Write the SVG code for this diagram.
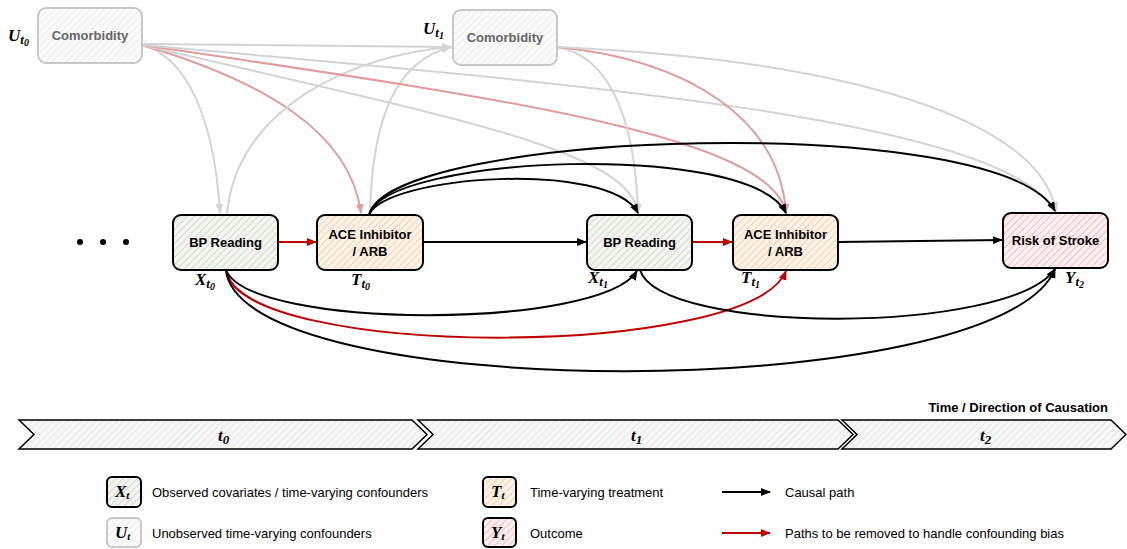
<svg xmlns="http://www.w3.org/2000/svg" width="1127" height="549" viewBox="0 0 1127 549">
<style>
.lbl{font-family:"Liberation Sans",Arial,sans-serif;font-weight:bold;font-size:13px;text-anchor:middle;fill:#000}
.ulbl{font-family:"Liberation Sans",Arial,sans-serif;font-weight:bold;font-size:13px;text-anchor:middle;fill:#666}
.m{font-family:"Liberation Serif","DejaVu Serif",serif;font-weight:bold;font-style:italic;font-size:17px;fill:#000}
.s1{font-size:13px}
.s2{font-size:10px}
.leg{font-family:"Liberation Sans",Arial,sans-serif;font-size:13px;fill:#000}
.box{stroke:#000;stroke-width:2}
.ubox{stroke:#c8c8c8;stroke-width:2}
.k{fill:none;stroke:#000;stroke-width:2}
.r{fill:none;stroke:#c00000;stroke-width:2}
.g{fill:none;stroke:#d4d4d4;stroke-width:2}
.p{fill:none;stroke:#e39c9c;stroke-width:2}
</style>
<defs>
<pattern id="hg" width="5" height="5" patternUnits="userSpaceOnUse" patternTransform="rotate(45)"><rect width="5" height="5" fill="#f3f5f0"/><line x1="0" y1="0" x2="0" y2="5" stroke="#c9d0c2" stroke-width="1.4"/></pattern>
<pattern id="ho" width="5" height="5" patternUnits="userSpaceOnUse" patternTransform="rotate(45)"><rect width="5" height="5" fill="#fdf3e8"/><line x1="0" y1="0" x2="0" y2="5" stroke="#f7c28c" stroke-width="1.4"/></pattern>
<pattern id="hr" width="5" height="5" patternUnits="userSpaceOnUse" patternTransform="rotate(45)"><rect width="5" height="5" fill="#fff1f1"/><line x1="0" y1="0" x2="0" y2="5" stroke="#f8a3a3" stroke-width="1.4"/></pattern>
<pattern id="hu" width="5" height="5" patternUnits="userSpaceOnUse" patternTransform="rotate(45)"><rect width="5" height="5" fill="#fbfbfb"/><line x1="0" y1="0" x2="0" y2="5" stroke="#e6e6e6" stroke-width="1.4"/></pattern>
<pattern id="ht" width="5" height="5" patternUnits="userSpaceOnUse" patternTransform="rotate(45)"><rect width="5" height="5" fill="#f7f7f7"/><line x1="0" y1="0" x2="0" y2="5" stroke="#d9d9d9" stroke-width="1.2"/></pattern>
<marker id="ak" markerUnits="userSpaceOnUse" markerWidth="10" markerHeight="10" refX="9" refY="4" orient="auto"><path d="M0,0 L10,4 L0,8 z" fill="#000"/></marker>
<marker id="ar" markerUnits="userSpaceOnUse" markerWidth="10" markerHeight="10" refX="9" refY="4" orient="auto"><path d="M0,0 L10,4 L0,8 z" fill="#c00000"/></marker>
<marker id="ag" markerUnits="userSpaceOnUse" markerWidth="10" markerHeight="10" refX="9" refY="4" orient="auto"><path d="M0,0 L10,4 L0,8 z" fill="#d4d4d4"/></marker>
<marker id="ap" markerUnits="userSpaceOnUse" markerWidth="10" markerHeight="10" refX="9" refY="4" orient="auto"><path d="M0,0 L10,4 L0,8 z" fill="#e39c9c"/></marker>
</defs>
<rect width="1127" height="549" fill="#fff"/>

<g id="connectors">
<path class="g" d="M142,44 L451,47" marker-end="url(#ag)"/>
<path class="g" d="M142,45 C185,56 214,115 220,213" marker-end="url(#ag)"/>
<path class="p" d="M142,45 C260,80 350,130 361,213" marker-end="url(#ap)"/>
<path class="g" d="M227,215 C235,110 350,55 451,47" marker-end="url(#ag)"/>
<path class="g" d="M370,215 C372,110 400,60 451,47" marker-end="url(#ag)"/>
<path class="g" d="M142,45 C450,117 630,150 638,213" marker-end="url(#ag)"/>
<path class="p" d="M142,45 C500,98 770,135 786,213" marker-end="url(#ap)"/>
<path class="g" d="M142,45 C600,85 1000,120 1056,211" marker-end="url(#ag)"/>
<path class="g" d="M557,47 C605,55 635,110 638,213" marker-end="url(#ag)"/>
<path class="p" d="M557,47 C690,60 780,120 786,213" marker-end="url(#ap)"/>
<path class="g" d="M557,47 C850,60 1040,120 1056,211" marker-end="url(#ag)"/>
<path class="k" d="M369,215 C385,175 610,160 638,213" marker-end="url(#ak)"/>
<path class="k" d="M369,215 C385,155 750,140 786,213" marker-end="url(#ak)"/>
<path class="k" d="M369,215 C390,130 1000,110 1055,211" marker-end="url(#ak)"/>
<path class="r" d="M278,242 L316,242" marker-end="url(#ar)"/>
<path class="k" d="M423,242 L586,242" marker-end="url(#ak)"/>
<path class="r" d="M692,242 L732,242" marker-end="url(#ar)"/>
<path class="k" d="M838,242 L1002,240" marker-end="url(#ak)"/>
<path class="k" d="M226,270 C250,330 600,330 637,271" marker-end="url(#ak)"/>
<path class="r" d="M226,270 C240,360 750,360 786,271" marker-end="url(#ar)"/>
<path class="k" d="M226,270 C240,405 1000,405 1055,269" marker-end="url(#ak)"/>
<path class="k" d="M640,270 C660,335 1010,335 1055,269" marker-end="url(#ak)"/>
</g>

<g id="u0">
<rect class="ubox" x="38" y="8" width="104" height="55" rx="8" fill="url(#hu)"/>
<text class="ulbl" x="90" y="40">Comorbidity</text>
<text class="m" x="8" y="41">U<tspan class="s1" dy="3">t</tspan><tspan class="s2" dy="2">0</tspan></text>
</g>
<g id="u1">
<rect class="ubox" x="453" y="10" width="104" height="55" rx="8" fill="url(#hu)"/>
<text class="ulbl" x="505" y="42">Comorbidity</text>
<text class="m" x="423" y="34">U<tspan class="s1" dy="3">t</tspan><tspan class="s2" dy="2">1</tspan></text>
</g>
<g id="dots">
<circle cx="80" cy="242" r="3" fill="#000"/>
<circle cx="103" cy="242" r="3" fill="#000"/>
<circle cx="126" cy="242" r="3" fill="#000"/>
</g>
<g id="x0">
<rect class="box" x="173" y="215" width="105" height="55" rx="8" fill="url(#hg)"/>
<text class="lbl" x="225.5" y="247">BP Reading</text>
<text class="m" x="195" y="285">X<tspan class="s1" dy="3">t</tspan><tspan class="s2" dy="2">0</tspan></text>
</g>
<g id="t0">
<rect class="box" x="317" y="215" width="106" height="55" rx="8" fill="url(#ho)"/>
<text class="lbl" x="370" y="239">ACE Inhibitor</text>
<text class="lbl" x="370" y="256">/ ARB</text>
<text class="m" x="351" y="285">T<tspan class="s1" dy="3">t</tspan><tspan class="s2" dy="2">0</tspan></text>
</g>
<g id="x1">
<rect class="box" x="587" y="215" width="105" height="55" rx="8" fill="url(#hg)"/>
<text class="lbl" x="639.5" y="247">BP Reading</text>
<text class="m" x="588" y="283">X<tspan class="s1" dy="3">t</tspan><tspan class="s2" dy="2">1</tspan></text>
</g>
<g id="t1">
<rect class="box" x="733" y="215" width="105" height="55" rx="8" fill="url(#ho)"/>
<text class="lbl" x="785.5" y="239">ACE Inhibitor</text>
<text class="lbl" x="785.5" y="256">/ ARB</text>
<text class="m" x="741" y="283">T<tspan class="s1" dy="3">t</tspan><tspan class="s2" dy="2">1</tspan></text>
</g>
<g id="y2">
<rect class="box" x="1003" y="213" width="105" height="55" rx="8" fill="url(#hr)"/>
<text class="lbl" x="1055.5" y="245">Risk of Stroke</text>
<text class="m" x="1065" y="283">Y<tspan class="s1" dy="3">t</tspan><tspan class="s2" dy="2">2</tspan></text>
</g>

<g id="timeline">
<text x="1108" y="412" font-family="'Liberation Sans',Arial,sans-serif" font-weight="bold" font-size="13" text-anchor="end">Time / Direction of Causation</text>
<path d="M19,420 L412,420 L427,434.5 L412,449 L19,449 L34,434.5 z" fill="url(#ht)" stroke="#000" stroke-width="1.5"/>
<path d="M418,420 L838,420 L853,434.5 L838,449 L418,449 L433,434.5 z" fill="url(#ht)" stroke="#000" stroke-width="1.5"/>
<path d="M842,420 L1111,420 L1126,434.5 L1111,449 L842,449 L857,434.5 z" fill="url(#ht)" stroke="#000" stroke-width="1.5"/>
<text class="m" x="218" y="441" font-size="20">t<tspan font-size="13" dy="3">0</tspan></text>
<text class="m" x="631" y="441" font-size="20">t<tspan font-size="13" dy="3">1</tspan></text>
<text class="m" x="980" y="441" font-size="20">t<tspan font-size="13" dy="3">2</tspan></text>
</g>

<g id="legend">
<rect class="box" x="107" y="477" width="34" height="30" rx="5" fill="url(#hg)"/>
<text class="m" x="115" y="497" font-size="15">X<tspan font-size="11" dy="2">t</tspan></text>
<text class="leg" x="152" y="497">Observed covariates / time-varying confounders</text>
<rect class="ubox" x="107" y="518" width="34" height="29" rx="5" fill="url(#hu)"/>
<text class="m" x="115" y="538" font-size="15">U<tspan font-size="11" dy="2">t</tspan></text>
<text class="leg" x="152" y="538">Unobserved time-varying confounders</text>
<rect class="box" x="483" y="477" width="33" height="30" rx="5" fill="url(#ho)"/>
<text class="m" x="491" y="497" font-size="15">T<tspan font-size="11" dy="2">t</tspan></text>
<text class="leg" x="530" y="497">Time-varying treatment</text>
<rect class="box" x="483" y="518" width="33" height="29" rx="5" fill="url(#hr)"/>
<text class="m" x="491" y="538" font-size="15">Y<tspan font-size="11" dy="2">t</tspan></text>
<text class="leg" x="530" y="538">Outcome</text>
<path class="k" d="M722,492 L770,492" marker-end="url(#ak)"/>
<text class="leg" x="785" y="497">Causal path</text>
<path class="r" d="M722,533 L770,533" marker-end="url(#ar)"/>
<text class="leg" x="785" y="538">Paths to be removed to handle confounding bias</text>
</g>
</svg>
